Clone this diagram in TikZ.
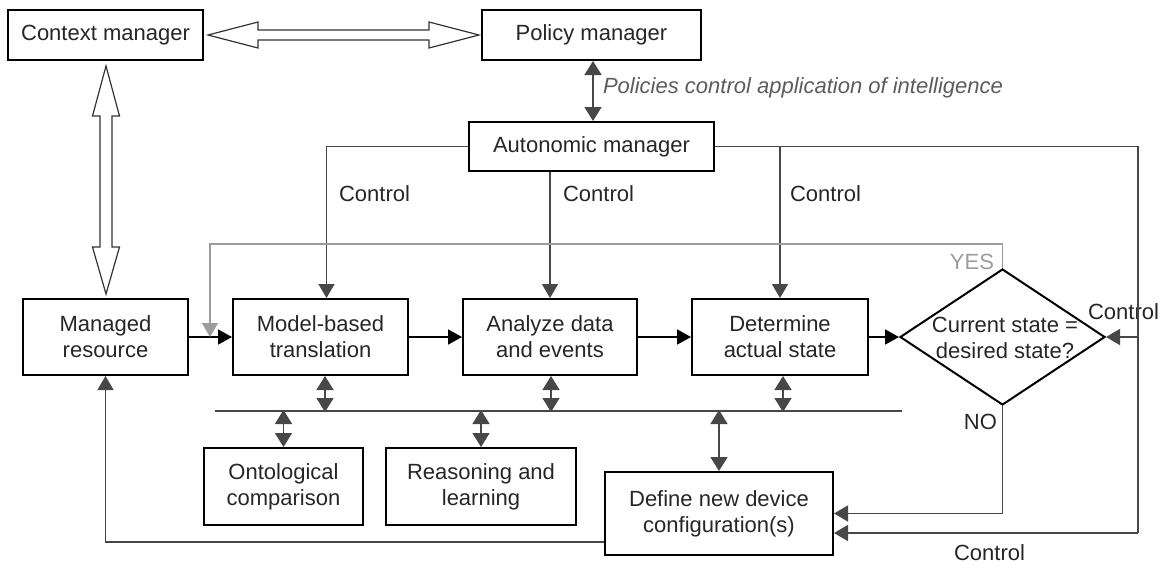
\documentclass[tikz,border=0pt]{standalone}
\usepackage{fontspec}
\setmainfont{Liberation Sans}
\usetikzlibrary{arrows.meta,shapes.geometric,calc}
\definecolor{linegray}{HTML}{474747}
\definecolor{yesgray}{HTML}{9C9C9C}
\definecolor{notegray}{HTML}{5C5C5C}
\tikzset{
  txt/.style={font=\fontsize{11}{13}\selectfont,text=black!85},
  box/.style={txt,draw=black,line width=1pt,align=center,inner sep=0pt},
  wire/.style={draw=linegray,line width=0.75pt},
  ctrl/.style={wire,-{Triangle[length=7pt,width=8pt]}},
  flow/.style={draw=black,line width=0.9pt,-{Triangle[length=7pt,width=7.5pt]}},
  yesline/.style={draw=yesgray,line width=0.75pt,-{Triangle[length=7pt,width=8pt]}},
  dbl/.style={wire,{Triangle[length=7pt,width=8.5pt]}-{Triangle[length=7pt,width=8.5pt]}},
  hollow/.style={draw=black!80,line width=0.6pt,fill=white,line join=miter}
}
\begin{document}
\begin{tikzpicture}[x=0.5pt,y=-0.5pt]
\useasboundingbox (0,0) rectangle (1162,563);
% boxes
\node[box,minimum width=97.5pt,minimum height=25pt] (ctx) at (105.5,35) {Context manager};
\node[box,minimum width=109.5pt,minimum height=25pt] (pol) at (591.5,35) {Policy manager};
\node[box,minimum width=122.5pt,minimum height=24.5pt] (auto) at (591.5,146.5) {Autonomic manager};
\node[box,minimum width=82.5pt,minimum height=38pt] (mres) at (105.5,337) {Managed\\resource};
\node[box,minimum width=87.5pt,minimum height=38pt] (model) at (320.5,337) {Model-based\\translation};
\node[box,minimum width=87pt,minimum height=38pt] (analyze) at (550,337) {Analyze data\\and events};
\node[box,minimum width=88pt,minimum height=38pt] (determine) at (780,337) {Determine\\actual state};
\node[diamond,draw=black,line width=1pt,minimum width=102.5pt,minimum height=68pt,inner sep=0pt] (check) at (1002.5,337) {};
\node[txt,align=center] (checktext) at (1005,338) {Current state =\\desired state?};
\node[box,minimum width=79.5pt,minimum height=38.5pt] (ont) at (283.5,486.5) {Ontological\\comparison};
\node[box,minimum width=95pt,minimum height=38.5pt] (reas) at (481,486.5) {Reasoning and\\learning};
\node[box,minimum width=114pt,minimum height=41.5pt] (define) at (719,513.5) {Define new device\\configuration(s)};
% labels
\node[txt,text=notegray,anchor=west,font=\fontsize{11}{13}\selectfont\itshape] (note) at (596,88) {Policies control application of intelligence};
\node[txt,anchor=west] (ctl1) at (332,194) {Control};
\node[txt,anchor=west] (ctl2) at (556,194) {Control};
\node[txt,anchor=west] (ctl3) at (783,194) {Control};
\node[txt,anchor=west] (ctl4) at (1081,312) {Control};
\node[txt,anchor=west] (ctl5) at (947,553) {Control};
\node[txt,text=yesgray,anchor=east] (yes) at (1001,262) {YES};
\node[txt,anchor=east] (no) at (1004,422) {NO};
% hollow arrows
\coordinate (h1) at ($(ctx.east)+(4,0)$);
\coordinate (h2) at ($(pol.west)+(-2,0)$);
\draw[hollow] (h1) -- ++(50,-13) -- ++(0,8) -- ($(h2)+(-50,-5)$) -- ++(0,-8) -- (h2)
  -- ++(-50,13) -- ++(0,-8) -- ($(h1)+(50,5)$) -- ++(0,8) -- cycle;
\coordinate (v1) at ($(ctx.south)+(0.5,5)$);
\coordinate (v2) at ($(mres.north)+(0.5,-4)$);
\draw[hollow] (v1) -- ++(-13.5,50) -- ++(7.5,0) -- ($(v2)+(-6,-47)$) -- ++(-7.5,0) -- (v2)
  -- ++(13.5,-47) -- ++(-7.5,0) -- ($(v1)+(6,50)$) -- ++(7.5,0) -- cycle;
% policy link and control lines
\draw[dbl] ($(pol.south)+(1.5,0)$) -- ($(auto.north)+(1.5,0)$);
\draw[ctrl] (auto.west) -| ($(model.north)+(6,0)$);
\draw[ctrl] (auto.south -| analyze.north) -- (analyze.north);
\draw[ctrl] (auto.east) -| (determine.north);
\coordinate (cr) at (1138,146.5);
\coordinate (crb) at (1138,533);
\draw[wire] (determine.north |- auto.east) -- (cr) -- (crb);
\draw[ctrl] (crb) -- (crb -| define.east);
\draw[ctrl] (cr |- check.east) -- (check.east);
% main flow
\draw[flow] (mres) -- (model);
\draw[flow] (model) -- (analyze);
\draw[flow] (analyze) -- (determine);
\draw[flow] (determine) -- (check);
\draw[yesline] (check.north) -- ++(0,-24) -| ($(mres.east)+(21,0)$);
\draw[ctrl] (check.south) |- (define.east);
\draw[ctrl] (define.west |- 0,542) -| (mres.south);
% knowledge bus
\coordinate (busl) at (215,411);
\coordinate (busr) at (902,411);
\draw[wire] (busl) -- (busr);
\draw[dbl] ($(model.south)+(4.5,0)$) -- +(0,36);
\draw[dbl] ($(analyze.south)+(1,0)$) -- +(0,36);
\draw[dbl] ($(determine.south)+(3,0)$) -- +(0,36);
\draw[dbl] (ont.north) -- +(0,-37);
\draw[dbl] (reas.north) -- +(0,-37);
\draw[dbl] (define.north) -- +(0,-61);
\end{tikzpicture}
\end{document}
